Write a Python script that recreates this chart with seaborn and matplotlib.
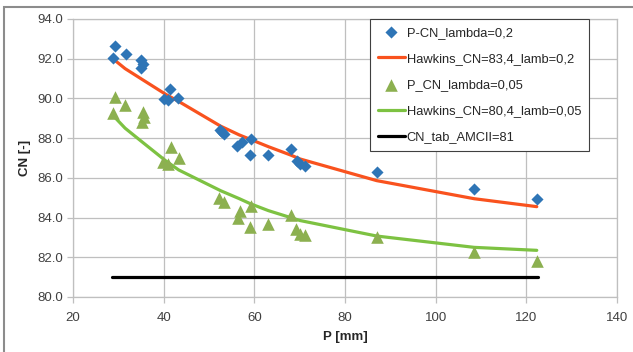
import matplotlib
matplotlib.use("Agg")
import matplotlib.pyplot as plt
import seaborn as sns
import pandas as pd
from matplotlib.patches import Rectangle

# ---------------- data ----------------
p_obs_02 = [28.9, 29.3, 31.6, 35.1, 35.5, 35.1, 40.1, 41.0, 41.4, 43.2,
            52.4, 53.2, 52.8, 56.1, 57.2, 59.2, 59.05, 63.1, 68.0, 69.35,
            70.1, 71.2, 87.0, 108.5, 122.3]
cn_obs_02 = [92.05, 92.62, 92.24, 91.92, 91.72, 91.55, 89.98, 89.92, 90.45, 90.02,
             88.42, 88.22, 88.32, 87.62, 87.8, 87.94, 87.17, 87.17, 87.44, 86.87,
             86.72, 86.62, 86.28, 85.42, 84.96]

p_obs_005 = [29.3, 31.5, 28.8, 35.5, 35.7, 35.2, 39.9, 40.9, 41.6, 43.4,
             52.3, 53.2, 56.9, 56.5, 59.2, 59.05, 63.1, 68.0, 69.2, 70.1,
             71.2, 87.0, 108.5, 122.3]
cn_obs_005 = [90.08, 89.67, 89.25, 89.33, 89.05, 88.8, 86.78, 86.72, 87.55, 87.0,
              85.0, 84.78, 84.33, 84.0, 84.57, 83.5, 83.66, 84.14, 83.4, 83.15,
              83.1, 83.03, 82.25, 81.8]

p_fit = [28.8, 31.5, 35.3, 40.5, 43.3, 52.6, 56.7, 59.1, 63.1, 68.0, 70.1, 87.0, 108.5, 122.3]
cn_fit_02 = [92.0, 91.5, 90.95, 90.2, 89.85, 88.6, 88.16, 87.94, 87.57, 87.15, 86.95, 85.86, 84.95, 84.55]
cn_fit_005 = [89.15, 88.5, 87.8, 86.85, 86.4, 85.35, 84.95, 84.7, 84.35, 84.0, 83.85, 83.07, 82.5, 82.35]

p_tab = [28.6, 122.5]
cn_tab = [81.0, 81.0]

labels = ["P-CN_lambda=0,2", "Hawkins_CN=83,4_lamb=0,2", "P_CN_lambda=0,05",
          "Hawkins_CN=80,4_lamb=0,05", "CN_tab_AMCII=81"]
x_ticks = [20, 40, 60, 80, 100, 120, 140]
y_ticks = [80, 82, 84, 86, 88, 90, 92, 94]

# ---------------- styling ----------------
sns.set_theme(style="white")
plt.rcParams["font.family"] = ["Liberation Sans", "DejaVu Sans"]

BLUE = "#2E75B6"
RED = "#F9521E"
GREEN_M = "#8CB050"
GREEN_L = "#7DC242"
GRID = "#BFBFBF"

W, H = 633, 352
fig = plt.figure(figsize=(W / 100, H / 100), dpi=100)
ax = fig.add_axes([73 / W, 1 - 297 / H, (617 - 73) / W, (297 - 19) / H])

df02 = pd.DataFrame({"P": p_obs_02, "CN": cn_obs_02})
df005 = pd.DataFrame({"P": p_obs_005, "CN": cn_obs_005})
dfit = pd.DataFrame({"P": p_fit, "a": cn_fit_02, "b": cn_fit_005})
dtab = pd.DataFrame({"P": p_tab, "CN": cn_tab})

sns.lineplot(data=dfit, x="P", y="a", ax=ax, color=RED, lw=2.3,
             estimator=None, sort=False, label=labels[1], zorder=3)
sns.lineplot(data=dfit, x="P", y="b", ax=ax, color=GREEN_L, lw=2.3,
             estimator=None, sort=False, label=labels[3], zorder=3)
sns.lineplot(data=dtab, x="P", y="CN", ax=ax, color="black", lw=2.3,
             estimator=None, sort=False, label=labels[4], zorder=3)
sns.scatterplot(data=df02, x="P", y="CN", ax=ax, marker="D", s=38,
                color=BLUE, edgecolor=BLUE, linewidth=0, label=labels[0], zorder=4)
sns.scatterplot(data=df005, x="P", y="CN", ax=ax, marker="^", s=82,
                color=GREEN_M, edgecolor=GREEN_M, linewidth=0, label=labels[2], zorder=4)

ax.set_xlim(20, 140)
ax.set_ylim(80, 94)
ax.set_xticks(x_ticks)
ax.set_yticks(y_ticks)
ax.set_yticklabels([f"{v:.1f}" for v in y_ticks])
ax.grid(True, color=GRID, lw=0.9)
ax.set_axisbelow(True)
for s in ax.spines.values():
    s.set_color(GRID)
    s.set_linewidth(0.9)
ax.tick_params(axis="both", which="major", direction="out", length=4, width=0.9,
               color=GRID, labelsize=9.5, labelcolor="#404040", pad=3,
               bottom=True, left=True)
ax.tick_params(axis="x", pad=7)
ax.set_xlabel("P [mm]", fontsize=9.5, fontweight="bold", color="#262626", labelpad=5)
ax.set_ylabel("CN [-]", fontsize=9.5, fontweight="bold", color="#262626", labelpad=5)

handles, labs = ax.get_legend_handles_labels()
order = [labs.index(l) for l in labels]
leg = ax.legend([handles[i] for i in order], [labs[i] for i in order],
                loc="upper left", bbox_to_anchor=(370 / W, 1 - 19 / H),
                bbox_transform=fig.transFigure, borderaxespad=0,
                fontsize=9.3, frameon=True, fancybox=False, framealpha=1,
                edgecolor="#404040", labelspacing=1.09, handlelength=2.1,
                handletextpad=0.15, borderpad=0.6)
leg.get_frame().set_linewidth(0.8)
for t in leg.get_texts():
    t.set_color("#262626")

# outer chart border
fig.patches.append(Rectangle((4 / W, -0.05), 1.05, 1 - 7 / H + 0.05,
                             transform=fig.transFigure, fill=False,
                             edgecolor="#8C8C8C", lw=1.5, zorder=0))

fig.savefig("out.png", dpi=100)
